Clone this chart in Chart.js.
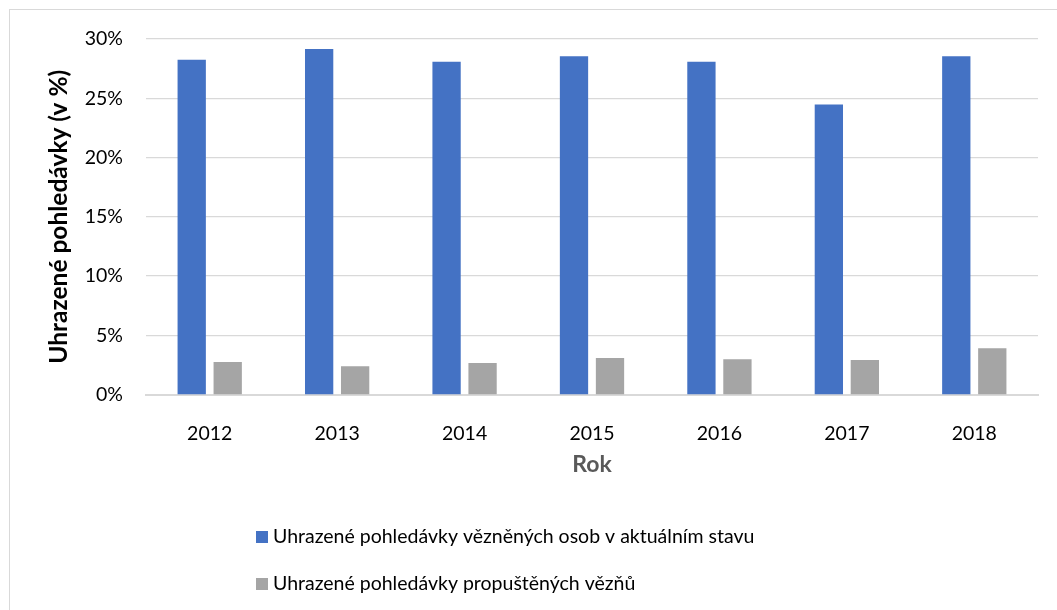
<!DOCTYPE html>
<html>
<head>
<meta charset="utf-8">
<script src="https://cdn.jsdelivr.net/npm/chart.js@4/dist/chart.umd.min.js"></script>
<style>
    html, body { margin: 0; padding: 0; background: #fff; overflow: hidden; }
    #frame {
        position: absolute; left: 9px; top: 9px; width: 1100px; height: 700px;
        border-left: 1px solid #d9d9d9; border-top: 1px solid #d9d9d9;
    }
    #wrap { position: absolute; left: 0; top: 0; width: 1057px; height: 610px; }
</style>
</head>
<body>
<div id="frame"></div>
<div id="wrap"><canvas id="chart"></canvas></div>
<script>
const years = ["2012", "2013", "2014", "2015", "2016", "2017", "2018"];
const imprisoned = [28.25, 29.15, 28.08, 28.55, 28.08, 24.47, 28.55];
const released = [2.75, 2.38, 2.66, 3.09, 2.97, 2.92, 3.9];
const seriesNames = [
    "Uhrazené pohledávky vězněných osob v aktuálním stavu",
    "Uhrazené pohledávky propuštěných vězňů"
];
const colors = ["#4472C4", "#A5A5A5"];

const FONT = "Lato, 'Open Sans', sans-serif";

// legend drawn as a vertical, left-aligned list under the chart
const stackedLegend = {
    id: "stackedLegend",
    afterDraw(chart) {
        const ctx = chart.ctx;
        ctx.save();
        ctx.font = "19.5px " + FONT;
        ctx.textBaseline = "middle";
        ctx.textAlign = "left";
        chart.data.datasets.forEach((ds, i) => {
            const y = 537 + i * 47;
            ctx.fillStyle = ds.backgroundColor;
            ctx.fillRect(256, y - 6, 12, 12);
            ctx.fillStyle = "#000";
            ctx.fillText(ds.label, 273, y);
        });
        ctx.restore();
    }
};

new Chart(document.getElementById("chart"), {
    type: "bar",
    data: {
        labels: years,
        datasets: [
            { label: seriesNames[0], data: imprisoned, backgroundColor: colors[0] },
            { label: seriesNames[1], data: released, backgroundColor: colors[1] }
        ]
    },
    options: {
        responsive: true,
        maintainAspectRatio: false,
        animation: false,
        categoryPercentage: 0.565,
        barPercentage: 0.786,
        layout: { padding: { left: 40, top: 39, right: 19, bottom: 125.5 } },
        plugins: {
            legend: { display: false },
            tooltip: { enabled: false }
        },
        scales: {
            x: {
                grid: { display: false },
                border: { color: "#d9d9d9", width: 2 },
                ticks: { color: "#000", padding: 20, font: { family: FONT, size: 19.5 } },
                title: {
                    display: true, text: "Rok", color: "#595959",
                    font: { family: FONT, size: 23, weight: "bold" },
                    padding: { top: 0, bottom: 6 }
                },
                afterFit: (s) => { s.height = 90; }
            },
            y: {
                min: 0,
                max: 30,
                border: { display: false },
                grid: {
                    color: "#d9d9d9",
                    drawTicks: false,
                    lineWidth: (c) => (c.tick && c.tick.value === 0 ? 0 : 1.3)
                },
                ticks: {
                    stepSize: 5,
                    color: "#000",
                    padding: 23,
                    font: { family: FONT, size: 19.5 },
                    callback: (v) => v + "%"
                },
                title: {
                    display: true, text: "Uhrazené pohledávky (v %)", color: "#000",
                    font: { family: FONT, size: 24.5, weight: "bold" },
                    padding: { top: 4, bottom: 0 }
                },
                afterFit: (s) => { s.width = 106; }
            }
        }
    },
    plugins: [stackedLegend]
});
</script>
</body>
</html>
